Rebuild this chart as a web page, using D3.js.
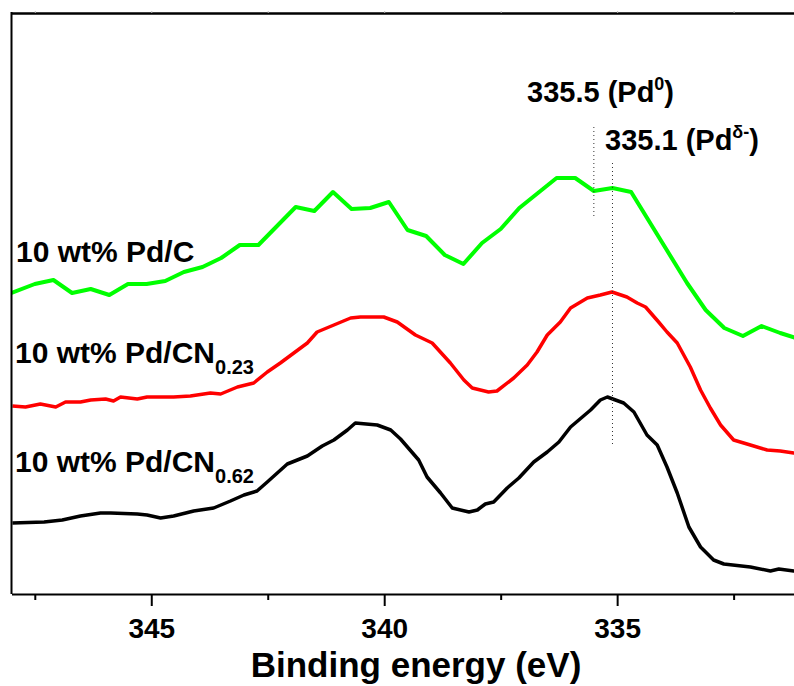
<!DOCTYPE html>
<html>
<head>
<meta charset="utf-8">
<script src="https://cdn.jsdelivr.net/npm/d3@7"></script>
<style>
  body { margin: 0; background: #fff; }
  svg { display: block; }
</style>
</head>
<body>
<div id="chart"></div>
<script>
// XPS Pd 3d region, intensities in arbitrary units (curves offset for clarity)
let energyC = [348.0, 347.5, 347.1, 346.7, 346.3, 345.9, 345.5, 345.1, 344.7, 344.3, 343.9, 343.5, 343.1, 342.7,
  341.9, 341.5, 341.1, 340.7, 340.3, 339.9, 339.5, 339.1, 338.7, 338.3, 337.9, 337.5, 337.1, 336.3, 335.9,
  335.5, 335.1, 334.7, 333.5, 333.1, 332.7, 332.3, 331.9, 331.5, 331.1];
let intensityC = [30.1, 31.0, 31.4, 30.1, 30.5, 29.9, 31.0, 31.0, 31.3, 32.2, 32.7, 33.6, 34.9, 34.9,
  38.7, 38.3, 40.2, 38.5, 38.6, 39.2, 36.4, 35.8, 33.9, 33.0, 35.1, 36.5, 38.6, 41.6, 41.6,
  40.3, 40.6, 40.2, 31.1, 28.4, 26.6, 25.8, 26.8, 26.1, 25.5];

let energyCN023 = [347.98, 347.7, 347.38, 347.05, 346.84, 346.52, 346.3, 345.98, 345.81, 345.66, 345.3, 345.09,
  344.52, 344.16, 343.73, 343.51, 343.15, 342.8, 342.51, 342.23, 341.94, 341.65, 341.44, 341.08, 340.72,
  340.51, 340.01, 339.72, 339.33, 338.97, 338.58, 338.29, 338.11, 337.76, 337.58, 337.22, 336.93, 336.72,
  336.5, 336.22, 336.0, 335.64, 335.36, 335.11, 334.79, 334.57, 334.39, 334.11, 333.93, 333.71, 333.43,
  333.21, 333.0, 332.78, 332.5, 332.14, 331.78, 331.5, 331.21, 331.0];
let intensityCN023 = [18.8, 18.7, 19.0, 18.7, 19.2, 19.2, 19.4, 19.5, 19.3, 19.7, 19.5, 19.7,
  19.7, 19.8, 20.1, 20.0, 20.7, 21.1, 22.2, 23.1, 24.1, 25.1, 26.2, 26.9, 27.6,
  27.7, 27.7, 27.2, 25.9, 25.1, 23.1, 21.4, 20.6, 20.2, 20.3, 21.6, 22.9, 24.2,
  25.9, 27.2, 28.6, 29.6, 29.9, 30.2, 29.7, 29.1, 28.7, 27.2, 26.2, 25.1, 22.7,
  20.4, 18.6, 16.9, 15.4, 14.9, 14.4, 14.3, 14.1, 14.0];

let energyCN062 = [347.98, 347.3, 346.91, 346.52, 346.09, 345.87, 345.3, 345.09, 344.8, 344.52, 344.09, 343.66,
  343.3, 343.01, 342.73, 342.51, 342.08, 341.65, 341.33, 341.08, 340.79, 340.62, 340.15, 339.86, 339.65,
  339.26, 339.08, 338.79, 338.54, 338.18, 338.0, 337.83, 337.65, 337.36, 337.11, 336.79, 336.5, 336.25,
  336.0, 335.57, 335.36, 335.21, 334.86, 334.64, 334.36, 334.14, 333.93, 333.71, 333.46, 333.21, 332.93,
  332.71, 332.14, 331.71, 331.53, 331.21, 331.0];
let intensityCN062 = [7.1, 7.2, 7.4, 7.8, 8.1, 8.1, 8.0, 7.9, 7.6, 7.8, 8.3, 8.6,
  9.3, 9.9, 10.3, 11.2, 13.0, 13.8, 14.8, 15.4, 16.4, 17.1, 16.9, 16.4, 15.5,
  13.4, 11.7, 10.1, 8.6, 8.2, 8.4, 9.0, 9.2, 10.6, 11.6, 13.2, 14.2, 15.2,
  16.7, 18.4, 19.4, 19.7, 19.1, 18.2, 15.9, 14.9, 12.7, 10.1, 6.7, 4.7, 3.4,
  3.0, 2.7, 2.3, 2.5, 2.3, 2.3];

let majorTicks = [345, 340, 335];
let minorTicks = [347.5, 342.5, 337.5, 332.5];

// reference peak markers: energy, from / to intensity
let peakEnergy = [335.5, 335.1];
let peakTop = [46.7, 43.1];
let peakBottom = [37.6, 14.9];

var width = 794, height = 686;
var plot = {left: 11.5, right: 803.5, top: 13, bottom: 594};
var font = "'Liberation Sans', Arial, Helvetica, sans-serif";

var x = d3.scaleLinear().domain([348, 331]).range([plot.left, plot.right]);
var y = d3.scaleLinear().domain([0, 58.1]).range([plot.bottom, plot.top]);

var svg = d3.select("#chart")
  .append("svg")
  .attr("width", width)
  .attr("height", height)
  .style("font-family", font);

svg.append("defs").append("clipPath").attr("id", "clip")
  .append("rect")
  .attr("x", plot.left).attr("y", plot.top)
  .attr("width", plot.right - plot.left).attr("height", plot.bottom - plot.top);

var line = d3.line()
  .x(function (d) { return x(d[0]); })
  .y(function (d) { return y(d[1]); });

var series = [
  {e: energyCN062, v: intensityCN062, color: "#000000", w: 3.5},
  {e: energyCN023, v: intensityCN023, color: "#ff0000", w: 3.5},
  {e: energyC, v: intensityC, color: "#00ff00", w: 4}
];

series.forEach(function (s) {
  svg.append("path")
    .datum(d3.zip(s.e, s.v))
    .attr("clip-path", "url(#clip)")
    .attr("fill", "none")
    .attr("stroke", s.color)
    .attr("stroke-width", s.w)
    .attr("stroke-linejoin", "round")
    .attr("d", line);
});

// dotted peak markers
svg.append("g")
  .selectAll("line")
  .data(peakEnergy)
  .enter()
  .append("line")
  .attr("x1", function (d) { return x(d); })
  .attr("x2", function (d) { return x(d); })
  .attr("y1", function (d, i) { return y(peakTop[i]); })
  .attr("y2", function (d, i) { return y(peakBottom[i]); })
  .attr("stroke", "#333")
  .attr("stroke-width", 1)
  .attr("stroke-dasharray", "1,3");

// frame: left line and top axis
svg.append("line")
  .attr("x1", plot.left).attr("x2", plot.left)
  .attr("y1", plot.top - 1).attr("y2", plot.bottom)
  .attr("stroke", "#000").attr("stroke-width", 2);

var topAxis = svg.append("g")
  .attr("transform", "translate(0," + plot.top + ")")
  .call(d3.axisTop(x).tickValues(majorTicks.concat(minorTicks)).tickSize(2).tickSizeOuter(0).tickFormat(""));
topAxis.selectAll(".tick line").attr("stroke", "#bbb").attr("stroke-width", 1);
topAxis.select(".domain").attr("stroke", "#000").attr("stroke-width", 2.5);

// bottom axis
var bottomAxis = svg.append("g")
  .attr("transform", "translate(0," + plot.bottom + ")");
bottomAxis.call(d3.axisBottom(x).tickValues(majorTicks).tickSize(12).tickSizeOuter(0).tickFormat(d3.format("d")));
bottomAxis.select(".domain").attr("stroke-width", 2);
bottomAxis.selectAll(".tick line").attr("stroke-width", 2);
bottomAxis.selectAll(".tick text")
  .attr("y", 44).attr("dy", 0)
  .style("font-family", font)
  .style("font-size", "28px")
  .style("font-weight", "bold")
  .attr("fill", "#000");

var minorAxis = svg.append("g")
  .attr("transform", "translate(0," + plot.bottom + ")")
  .call(d3.axisBottom(x).tickValues(minorTicks).tickSize(6).tickSizeOuter(0).tickFormat(""));
minorAxis.select(".domain").remove();
minorAxis.selectAll(".tick line").attr("stroke-width", 2);

svg.append("text")
  .attr("x", 416).attr("y", 677)
  .attr("text-anchor", "middle")
  .style("font-size", "35px")
  .style("font-weight", "bold")
  .text("Binding energy (eV)");

// series labels
function label(xp, yp, main, sub) {
  var t = svg.append("text")
    .attr("x", xp).attr("y", yp)
    .style("font-size", "30px")
    .style("font-weight", "bold");
  t.append("tspan").text(main);
  if (sub) {
    t.append("tspan").attr("dy", 11).style("font-size", "20px").text(sub);
  }
}
label(16, 262, "10 wt% Pd/C");
label(15, 363, "10 wt% Pd/CN", "0.23");
label(15, 472, "10 wt% Pd/CN", "0.62");

// peak annotations
function annot(xp, yp, main, sup) {
  var t = svg.append("text")
    .attr("x", xp).attr("y", yp)
    .style("font-size", "29px")
    .style("font-weight", "bold");
  t.append("tspan").text(main);
  t.append("tspan").attr("dy", -12).style("font-size", "18px").text(sup);
  t.append("tspan").attr("dy", 12).text(")");
}
annot(527, 102, "335.5 (Pd", "0");
annot(605, 150, "335.1 (Pd", "\u03b4-");
</script>
</body>
</html>
